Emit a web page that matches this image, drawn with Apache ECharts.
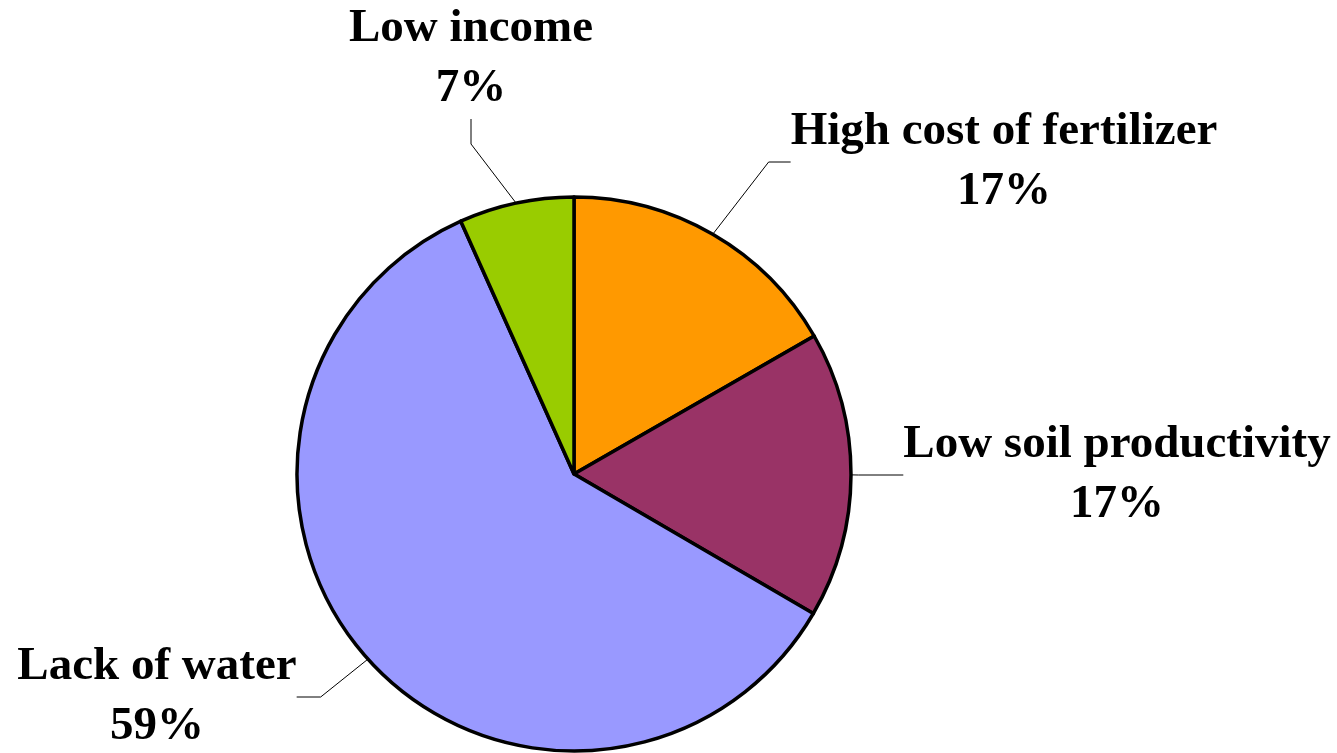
<!DOCTYPE html>
<html>
<head>
<meta charset="utf-8">
<script src="https://cdn.jsdelivr.net/npm/echarts@6/dist/echarts.min.js"></script>
<style>
  html, body { margin: 0; padding: 0; background: #fff; }
  #chart { width: 1337px; height: 753px; }
</style>
</head>
<body>
<div id="chart"></div>
<script>
// data, clockwise from 12 o'clock
var categories = ["High cost of fertilizer", "Low soil productivity", "Lack of water", "Low income"];
var values = [16.7, 16.7, 59.9, 6.7];
// percentages as printed on the chart
var percentLabels = ["17%", "17%", "59%", "7%"];
var colors = ["#FF9900", "#993366", "#9999FF", "#99CC00"];

// where each label block sits (centre of the two lines)
var labelSpots = [
  { x: 1004, y: 162, length2: 22 },
  { x: 1117, y: 475, length2: 45 },
  { x: 157, y: 697, length2: 24 },
  { x: 471, y: 59, length2: 25 }
];

var pieData = [];
for (var i = 0; i < categories.length; i++) {
  pieData.push({
    name: categories[i],
    value: values[i],
    itemStyle: { color: colors[i] },
    labelLine: { length2: labelSpots[i].length2 }
  });
}

var myChart = echarts.init(document.getElementById("chart"));
var option = {
  backgroundColor: "#fff",
  animation: false,
  series: [
    {
      type: "pie",
      center: [574, 474],
      radius: 277,
      startAngle: 90,
      clockwise: true,
      avoidLabelOverlap: false,
      emphasis: { scale: false },
      itemStyle: {
        borderColor: "#000",
        borderWidth: 3.5
      },
      label: {
        show: true,
        position: "outside",
        formatter: function (p) {
          return p.name + "\n" + percentLabels[p.dataIndex];
        },
        fontFamily: "Liberation Serif",
        fontWeight: "bold",
        fontSize: 47,
        lineHeight: 60,
        color: "#000",
        align: "center"
      },
      labelLine: {
        show: true,
        smooth: false,
        length: 20,
        minTurnAngle: 90,
        lineStyle: { color: "#000", width: 1 }
      },
      labelLayout: function (params) {
        var s = labelSpots[params.dataIndex];
        return {
          x: s.x,
          y: s.y,
          align: "center",
          verticalAlign: "middle"
        };
      },
      data: pieData
    }
  ]
};
myChart.setOption(option);
</script>
</body>
</html>
